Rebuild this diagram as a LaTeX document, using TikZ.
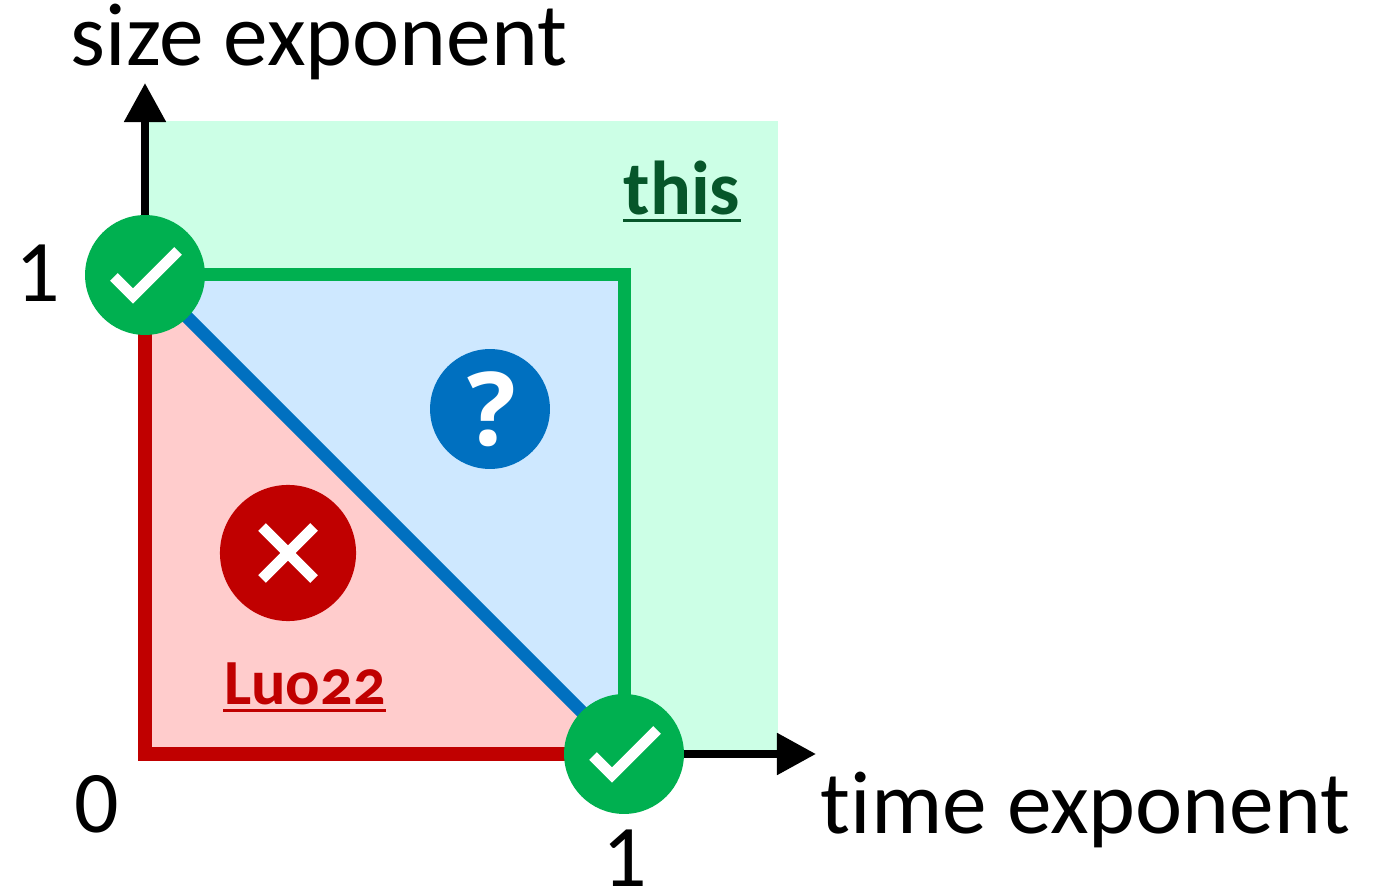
\documentclass[tikz,border=0pt]{standalone}
\usepackage{fontspec}
\setmainfont{Carlito}[Ligatures=NoCommon]
\newfontfamily\oldnums[Numbers=OldStyle]{Carlito}
\newfontfamily\qfont{Open Sans}
\usepackage{xcolor}
\usetikzlibrary{arrows.meta, calc}
\definecolor{okgreen}{HTML}{00B050}
\definecolor{okfill}{HTML}{CCFFE6}
\definecolor{okdark}{HTML}{06562A}
\definecolor{qblue}{HTML}{0070C0}
\definecolor{qfill}{HTML}{CEE8FF}
\definecolor{badred}{HTML}{C00000}
\definecolor{badfill}{HTML}{FFCCCC}
\tikzset{
  axisline/.style={line width=2.3pt, -{Triangle[length=11.1pt, width=11.4pt]}},
  border/.style={line width=3.7pt, miter limit=10},
  badge/.style={circle, minimum size=34.1pt, inner sep=0pt, fill=#1},
  glyph/.style={white, line width=3.1pt},
  axislabel/.style={anchor=base west, inner sep=0pt, font=\fontsize{25.4}{25.4}\selectfont},
  ticklabel/.style={anchor=base, inner sep=0pt, font=\fontsize{25}{25}\selectfont},
  tag/.style={anchor=base, inner sep=0pt, font=\bfseries},
}
\begin{document}
\begin{tikzpicture}[x=0.01cm, y=-0.01cm]
\useasboundingbox (0,0) rectangle (1380,892);
\coordinate (origin) at (145,754);
\coordinate (xone) at (624,754);
\coordinate (yone) at (145,275);
\coordinate (corner) at (624,275);
\coordinate (xtip) at (816,754);
\coordinate (ytip) at (145,83);
% regions
\fill[okfill] (origin) rectangle (778,121);
\fill[qfill] (yone) -- (corner) -- (xone) -- cycle;
\fill[badfill] (yone) -- (origin) -- (xone) -- cycle;
% axes
\draw[axisline] (origin) -- (xtip);
\draw[axisline] (origin) -- (ytip);
% borders
\draw[border, qblue] (yone) -- (xone);
\draw[border, okgreen] (yone) -- (corner) -- (xone);
\draw[border, badred] (yone) -- (origin) -- (xone);
% badges
\node[badge=okgreen] (ybadge) at (yone) {};
\node[badge=okgreen] (xbadge) at (xone) {};
\node[badge=qblue] (qbadge) at (490,409) {\fontsize{29}{29}\selectfont\qfont\bfseries\color{white}\hspace{1pt}?};
\node[badge=badred, minimum size=38.7pt] (nobadge) at (288,553) {};
\foreach \n in {ybadge, xbadge} {
  \draw[glyph] ($(\n)+(-31,2)$) -- ($(\n)+(-12,21)$) -- ($(\n)+(33,-24)$);
}
\draw[glyph] ($(nobadge)+(-26,-26)$) -- ($(nobadge)+(26,26)$);
\draw[glyph] ($(nobadge)+(-26,26)$) -- ($(nobadge)+(26,-26)$);
% labels
\node[axislabel] (ylabel) at (70,66) {size exponent};
\node[axislabel] (xlabel) at (820,833) {time exponent};
\node[ticklabel] (zero) at (97,832) {0};
\node[ticklabel] (yonelabel) at (38,302) {1};
\node[ticklabel] (xonelabel) at (625,886) {1};
\node[tag, okdark, font=\fontsize{21.7}{21.7}\selectfont\bfseries] (thistag) at (682,215) {this};
\node[tag, badred, font=\fontsize{18.3}{18.3}\selectfont\bfseries\oldnums] (luotag) at (305,704) {Luo22};
\draw[okdark, line width=0.85pt] (623,220.5) -- (741,220.5);
\draw[badred, line width=0.85pt] (223,710.5) -- (386,710.5);
\end{tikzpicture}
\end{document}
